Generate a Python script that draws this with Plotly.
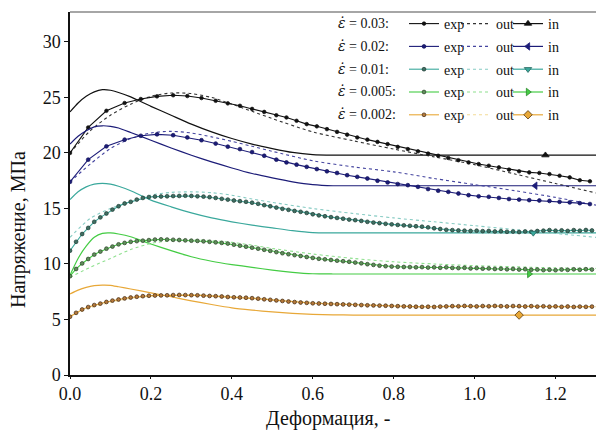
import plotly.graph_objects as go

# ---------------- data ----------------
rates = ["0.03", "0.02", "0.01", "0.005", "0.002"]

# experimental (coarse grid for the two fastest rates)
x_exp_fast = [0.0, 0.045, 0.09, 0.135, 0.175, 0.215, 0.255, 0.29, 0.325, 0.36, 0.39, 0.42,
              0.45, 0.48, 0.51, 0.535, 0.56, 0.585, 0.61, 0.635, 0.66, 0.685, 0.71, 0.735,
              0.76, 0.785, 0.81, 0.835, 0.86, 0.885, 0.91, 0.935, 0.96, 0.985, 1.01, 1.035,
              1.06, 1.085, 1.11, 1.135, 1.16, 1.185, 1.21, 1.235, 1.26, 1.285]
exp_003 = [20.0, 22.3, 23.8, 24.5, 24.86, 25.1, 25.2, 25.13, 24.95, 24.7, 24.47, 24.25,
           23.97, 23.7, 23.4, 23.2, 22.9, 22.6, 22.4, 22.15, 21.9, 21.65, 21.4, 21.2,
           21.0, 20.8, 20.55, 20.35, 20.15, 19.95, 19.75, 19.55, 19.35, 19.15, 19.0, 18.85,
           18.7, 18.5, 18.35, 18.25, 18.2, 18.1, 17.95, 17.8, 17.55, 17.45]
exp_002 = [17.4, 19.4, 20.6, 21.2, 21.55, 21.68, 21.6, 21.4, 21.15, 20.85, 20.57, 20.35,
           20.08, 19.75, 19.4, 19.15, 18.95, 18.75, 18.55, 18.35, 18.2, 18.0, 17.85, 17.7,
           17.5, 17.35, 17.2, 17.1, 16.95, 16.75, 16.6, 16.5, 16.35, 16.2, 16.1, 16.05,
           15.95, 15.85, 15.8, 15.75, 15.72, 15.68, 15.6, 15.55, 15.48, 15.4]

# experimental (fine grid for the slower rates)
x_exp_fine = [0.0, 0.015, 0.03, 0.045, 0.06, 0.075, 0.09, 0.105, 0.12, 0.135, 0.15, 0.165,
              0.18, 0.195, 0.21, 0.225, 0.24, 0.255, 0.27, 0.285, 0.3, 0.315, 0.33, 0.345,
              0.36, 0.375, 0.39, 0.405, 0.42, 0.435, 0.45, 0.465, 0.48, 0.495, 0.51, 0.525,
              0.54, 0.555, 0.57, 0.585, 0.6, 0.615, 0.63, 0.645, 0.66, 0.675, 0.69, 0.705,
              0.72, 0.735, 0.75, 0.765, 0.78, 0.795, 0.81, 0.825, 0.84, 0.855, 0.87, 0.885,
              0.9, 0.915, 0.93, 0.945, 0.96, 0.975, 0.99, 1.005, 1.02, 1.035, 1.05, 1.065,
              1.08, 1.095, 1.11, 1.125, 1.14, 1.155, 1.17, 1.185, 1.2, 1.215, 1.23, 1.245,
              1.26, 1.275, 1.29]
exp_001 = [11.2, 12.0, 12.7, 13.25, 13.8, 14.2, 14.55, 14.9, 15.2, 15.45, 15.6, 15.8,
           15.95, 16.03, 16.07, 16.08, 16.1, 16.12, 16.13, 16.15, 16.13, 16.1, 16.07, 16.02,
           15.95, 15.87, 15.8, 15.72, 15.66, 15.6, 15.52, 15.42, 15.3, 15.2, 15.08, 14.97,
           14.88, 14.78, 14.7, 14.6, 14.48, 14.38, 14.3, 14.22, 14.15, 14.08, 14.0, 13.95,
           13.88, 13.8, 13.73, 13.68, 13.62, 13.57, 13.52, 13.48, 13.44, 13.4, 13.36, 13.3,
           13.22, 13.15, 13.08, 13.05, 13.02, 13.0, 12.98, 13.0, 12.96, 12.98, 12.93, 12.95,
           12.9, 12.92, 12.88, 12.93, 12.9, 12.97, 13.0, 13.05, 13.0, 13.03, 12.98, 13.05,
           13.0, 13.06, 13.02]
exp_0005 = [8.9, 9.55, 10.05, 10.45, 10.85, 11.12, 11.38, 11.57, 11.77, 11.9, 12.0, 12.06,
            12.1, 12.15, 12.2, 12.22, 12.2, 12.18, 12.16, 12.13, 12.1, 12.08, 12.04, 12.0,
            11.95, 11.9, 11.84, 11.74, 11.65, 11.56, 11.47, 11.38, 11.28, 11.18, 11.07, 10.97,
            10.88, 10.8, 10.72, 10.63, 10.55, 10.47, 10.42, 10.36, 10.3, 10.25, 10.2, 10.13,
            10.06, 9.98, 9.92, 9.85, 9.8, 9.77, 9.75, 9.73, 9.72, 9.7, 9.72, 9.68,
            9.7, 9.66, 9.7, 9.65, 9.63, 9.66, 9.6, 9.63, 9.58, 9.6, 9.55, 9.57,
            9.52, 9.55, 9.5, 9.53, 9.48, 9.5, 9.45, 9.48, 9.44, 9.5, 9.47, 9.52,
            9.48, 9.53, 9.5]
exp_0002 = [5.25, 5.6, 5.9, 6.12, 6.3, 6.43, 6.58, 6.7, 6.8, 6.9, 6.98, 7.05,
            7.1, 7.14, 7.16, 7.17, 7.18, 7.2, 7.21, 7.2, 7.19, 7.18, 7.15, 7.12,
            7.1, 7.07, 7.03, 7.0, 6.98, 6.96, 6.92, 6.88, 6.82, 6.77, 6.72, 6.67,
            6.62, 6.57, 6.53, 6.5, 6.46, 6.44, 6.42, 6.4, 6.38, 6.36, 6.34, 6.32,
            6.3, 6.28, 6.27, 6.25, 6.24, 6.22, 6.2, 6.18, 6.17, 6.15, 6.14, 6.15,
            6.13, 6.16, 6.18, 6.2, 6.19, 6.22, 6.2, 6.18, 6.21, 6.19, 6.22, 6.2,
            6.18, 6.21, 6.2, 6.17, 6.2, 6.16, 6.19, 6.15, 6.18, 6.14, 6.17, 6.13,
            6.16, 6.14, 6.16]

# model "out"
x_out = [0.0, 0.05, 0.1, 0.15, 0.2, 0.25, 0.3, 0.35, 0.4, 0.45, 0.5, 0.6, 0.7, 0.8, 0.9,
         1.0, 1.1, 1.2, 1.3]
out_003 = [20.0, 22.0, 23.4, 24.4, 25.1, 25.4, 25.35, 25.0, 24.4, 23.75, 23.1, 21.9, 21.1,
           20.35, 19.65, 18.95, 18.1, 17.25, 16.4]
out_002 = [17.4, 19.0, 20.4, 21.3, 21.8, 21.95, 21.8, 21.45, 21.05, 20.6, 20.15, 19.3, 18.75,
           18.3, 17.7, 17.15, 16.6, 16.0, 15.3]
out_001 = [12.4, 14.1, 15.0, 15.6, 16.2, 16.45, 16.5, 16.42, 16.2, 15.85, 15.55, 15.0, 14.55,
           14.15, 13.8, 13.45, 13.1, 12.75, 12.4]
out_0005 = [8.8, 9.7, 10.5, 11.3, 11.85, 12.1, 12.18, 12.1, 11.95, 11.7, 11.4, 10.9, 10.5,
            10.2, 10.0, 9.85, 9.75, 9.65, 9.6]
out_0002 = [5.3, 6.05, 6.55, 6.9, 7.1, 7.2, 7.22, 7.15, 7.05, 6.95, 6.8, 6.55, 6.4, 6.3,
            6.25, 6.22, 6.2, 6.18, 6.15]

# model "in"
x_in = [0.0, 0.02, 0.04, 0.06, 0.08, 0.1, 0.12, 0.15, 0.2, 0.25, 0.3, 0.35, 0.4, 0.45,
        0.5, 0.55, 0.6, 0.65, 0.7, 0.8, 0.9, 1.0, 1.1, 1.2, 1.3]
in_003 = [23.7, 24.5, 25.1, 25.5, 25.7, 25.65, 25.45, 25.05, 24.2, 23.4, 22.6, 21.9, 21.3,
          20.8, 20.4, 20.05, 19.85, 19.8, 19.8, 19.8, 19.8, 19.8, 19.8, 19.8, 19.8]
in_002 = [20.8, 21.5, 22.0, 22.35, 22.45, 22.4, 22.25, 21.85, 21.15, 20.45, 19.8, 19.2, 18.65,
          18.15, 17.75, 17.4, 17.15, 17.05, 17.05, 17.05, 17.05, 17.05, 17.05, 17.05, 17.05]
in_001 = [15.8, 16.5, 16.95, 17.2, 17.27, 17.2, 17.0, 16.6, 15.75, 15.15, 14.6, 14.15, 13.8,
          13.5, 13.25, 13.0, 12.82, 12.8, 12.8, 12.8, 12.8, 12.8, 12.8, 12.8, 12.8]
in_0005 = [9.0, 10.5, 11.6, 12.4, 12.76, 12.8, 12.7, 12.45, 11.8, 11.2, 10.65, 10.25, 9.95,
           9.7, 9.45, 9.25, 9.12, 9.1, 9.1, 9.1, 9.1, 9.1, 9.1, 9.1, 9.1]
in_0002 = [7.3, 7.65, 7.9, 8.05, 8.1, 8.08, 7.95, 7.75, 7.4, 7.05, 6.68, 6.35, 6.05, 5.85,
           5.68, 5.55, 5.47, 5.42, 5.4, 5.4, 5.4, 5.4, 5.4, 5.4, 5.4]
# single marker placed on each "in" curve
in_marker_x = [1.175, 1.15, 1.145, 1.135, 1.11]
in_marker_y = [19.8, 17.05, 12.8, 9.1, 5.4]

x_ticks = [0.0, 0.2, 0.4, 0.6, 0.8, 1.0, 1.2]
y_ticks = [0, 5, 10, 15, 20, 25, 30]

# ---------------- styles ----------------
exp_x = [x_exp_fast, x_exp_fast, x_exp_fine, x_exp_fine, x_exp_fine]
exp_y = [exp_003, exp_002, exp_001, exp_0005, exp_0002]
out_y = [out_003, out_002, out_001, out_0005, out_0002]
in_y = [in_003, in_002, in_001, in_0005, in_0002]

line_col = ["#111111", "#1c1c78", "#3aa89c", "#44cc44", "#e8a838"]
out_col = ["#333333", "#4646a0", "#86cbc3", "#8ee08e", "#f3dc98"]
mk_fill = ["#111111", "#1c1c78", "#3f6f62", "#5f8f5a", "#b5783a"]
mk_edge = ["#111111", "#14145a", "#1d3a32", "#2a3f26", "#3c2812"]
mk_size = [3.6, 3.8, 3.8, 3.8, 3.8]
in_sym = ["triangle-up", "triangle-left", "triangle-down", "triangle-right", "diamond"]
in_fill = ["#111111", "#1c1c78", "#3aa89c", "#44cc44", "#e8a838"]
in_edge = ["#111111", "#1c1c78", "#2a6a62", "#2a8a2a", "#5a3a10"]

SERIF = "Liberation Serif, Times New Roman, serif"

fig = go.Figure()

for i in range(5):
    # in curve (line only)
    fig.add_trace(go.Scatter(
        x=x_in, y=in_y[i], mode="lines",
        line=dict(color=line_col[i], width=1.2, shape="spline", smoothing=0.6),
        showlegend=False, hoverinfo="skip"))
    # out curve
    fig.add_trace(go.Scatter(
        x=x_out, y=out_y[i], mode="lines", name="out",
        line=dict(color=out_col[i], width=1.1, dash="dot", shape="spline", smoothing=0.8),
        legend="legend2", legendgroup=f"out{i}"))
    # exp data
    fig.add_trace(go.Scatter(
        x=exp_x[i], y=exp_y[i], mode="lines+markers", name="exp",
        line=dict(color=line_col[i], width=1.1),
        marker=dict(symbol="circle", size=mk_size[i], color=mk_fill[i],
                    line=dict(color=mk_edge[i], width=0.7)),
        legend="legend", legendgroup=f"exp{i}"))
    # in marker
    fig.add_trace(go.Scatter(
        x=[in_marker_x[i]], y=[in_marker_y[i]], mode="lines+markers", name="in",
        line=dict(color=line_col[i], width=1.2),
        marker=dict(symbol=in_sym[i], size=6.5, color=in_fill[i],
                    line=dict(color=in_edge[i], width=0.8)),
        legend="legend3", legendgroup=f"in{i}"))

W, H = 596, 434
ML, MR, MT, MB = 70, 0, 12, 59
PW, PH = W - ML - MR, H - MT - MB


def px_x(px):
    return (px - ML) / PW


def px_y(py):
    return (H - MB - py) / PH


leg_common = dict(font=dict(family=SERIF, size=14, color="#111111"),
                  bgcolor="rgba(0,0,0,0)", borderwidth=0, itemwidth=30,
                  tracegroupgap=1.6, traceorder="grouped",
                  xanchor="left", yanchor="top", xref="paper", yref="paper")

row_y = [23, 45.8, 68.6, 91.4, 114.2]
annotations = []
for i, r in enumerate(rates):
    annotations.append(dict(
        x=px_x(336), y=px_y(row_y[i]), xref="paper", yref="paper",
        xanchor="left", yanchor="middle", showarrow=False,
        text=(f"<span style='font-family:DejaVu Serif'><i>ε̇</i></span>"
              f" = {r}:"),
        font=dict(family=SERIF, size=14, color="#111111")))

annotations.append(dict(
    x=px_x(18), y=px_y(230), xref="paper", yref="paper", textangle=-90,
    showarrow=False, text="Напряжение, МПа", xanchor="center", yanchor="middle",
    font=dict(family=SERIF, size=20, color="#111111")))
annotations.append(dict(
    x=px_x(328), y=px_y(418), xref="paper", yref="paper",
    showarrow=False, text="Деформация, -", xanchor="center", yanchor="middle",
    font=dict(family=SERIF, size=20, color="#111111")))

fig.update_layout(
    width=W, height=H,
    margin=dict(l=ML, r=MR, t=MT, b=MB, autoexpand=False),
    paper_bgcolor="white", plot_bgcolor="white",
    xaxis=dict(range=[0, 1.3], tickvals=x_ticks, ticktext=[f"{v:.1f}" for v in x_ticks],
               showgrid=False, zeroline=False, showline=True, linecolor="#111111",
               linewidth=1.5, ticks="outside", ticklen=2, tickcolor="#111111",
               tickfont=dict(family=SERIF, size=18, color="#111111")),
    yaxis=dict(range=[0, 32.7], tickvals=y_ticks, showgrid=False, zeroline=False,
               showline=True, linecolor="#111111", linewidth=1.5, ticks="outside",
               ticklen=4, tickcolor="#111111",
               tickfont=dict(family=SERIF, size=18, color="#111111")),
    legend=dict(x=px_x(404), y=px_y(8), **leg_common),
    legend2=dict(x=px_x(456), y=px_y(8), **leg_common),
    legend3=dict(x=px_x(508), y=px_y(8), **leg_common),
    annotations=annotations,
    shapes=[dict(type="line", xref="paper", yref="paper", x0=0, x1=1, y0=1, y1=1,
                 line=dict(color="#888888", width=1.5))],
)

fig.write_html("out.html", config={"displayModeBar": False},
               post_script="document.body.style.margin='0';"
                           "document.body.style.overflow='hidden';")
